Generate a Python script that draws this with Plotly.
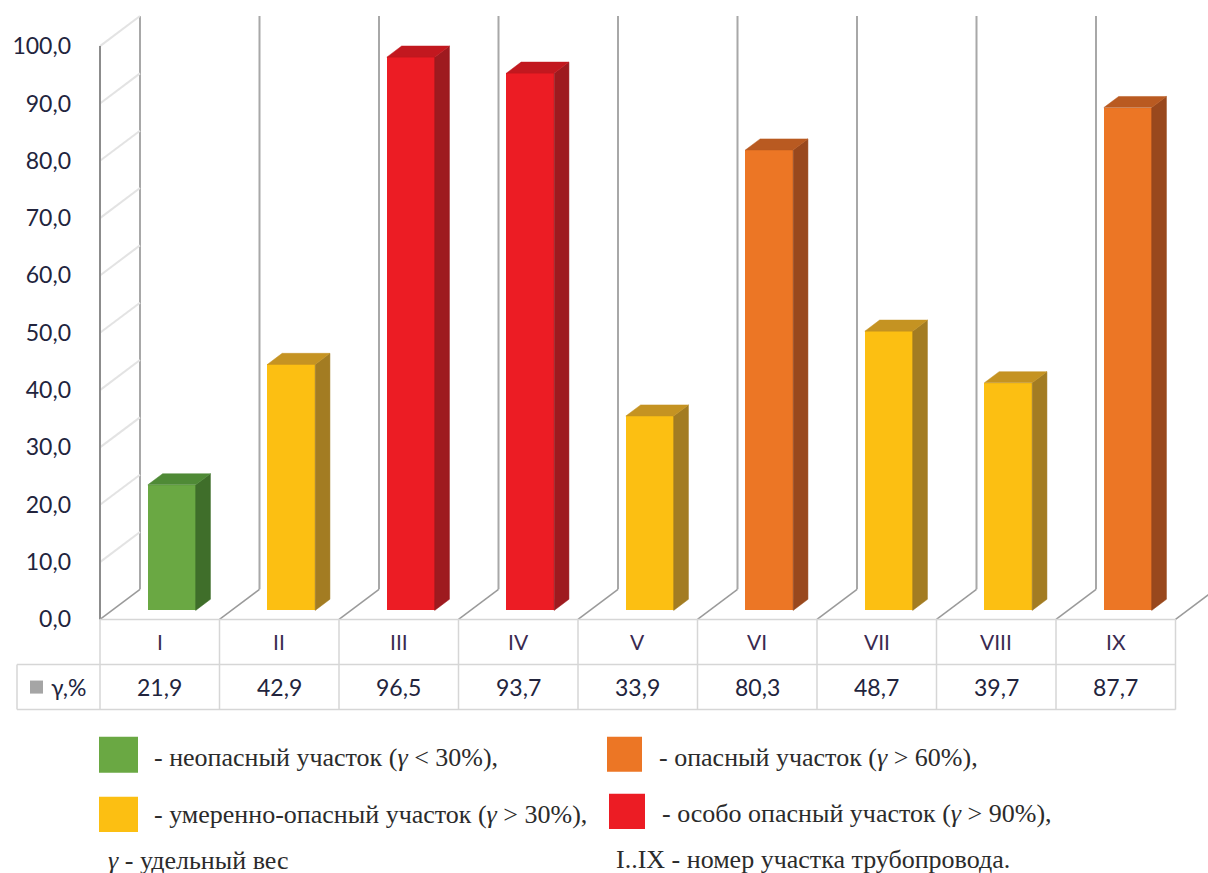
import plotly.graph_objects as go

# Pipeline sections and specific weight of each section, %
sections = ["I", "II", "III", "IV", "V", "VI", "VII", "VIII", "IX"]
gamma = [21.9, 42.9, 96.5, 93.7, 33.9, 80.3, 48.7, 39.7, 87.7]
y_ticks = [0, 10, 20, 30, 40, 50, 60, 70, 80, 90, 100]

# Hazard classes: (lower bound of γ, front, side, top colour)
hazard_classes = [
    (0, "#6aa843", "#3f6e2a", "#4f8a36"),
    (30, "#fcbf12", "#a37c22", "#c59322"),
    (60, "#ec7625", "#99481d", "#b95a21"),
    (90, "#ec1c24", "#9e1a1f", "#c2181f"),
]
legend_texts = [
    "- неопасный участок (<i>γ</i> &lt; 30%),",
    "- умеренно-опасный участок (<i>γ</i> &gt; 30%),",
    "- опасный участок (<i>γ</i> &gt; 60%),",
    "- особо опасный участок (<i>γ</i> &gt; 90%),",
]
note_gamma = "<i>γ</i> - удельный вес"
note_sections = "I..IX - номер участка трубопровода."
row_label = "γ,%"

# ---- layout geometry, in pixels of a 1208 x 873 frame ----
W, H = 1208, 873
FIG_H = 888       # figure height; positions below are kept as fractions of H
X0 = 100.0        # front-left corner of the floor
SLOT = 119.5      # width of one category slot
Y0 = 618.0        # front floor edge (value 0 on the front plane)
UNIT = 5.72       # pixels per percent
DX, DY = 40.0, 30.0   # offset of the back wall relative to the front plane
BAR_FRONT = 0.30  # depth of the bar front faces (0 = front, 1 = back wall)
BAR_DEPTH = 0.37  # depth of the bars themselves
DOM_L, DOM_T = 139.0, 8.0

FONT_UI = "Lato, 'Open Sans', sans-serif"
FONT_SERIF = "'Liberation Serif', 'DejaVu Serif', serif"
TXT = "#22243d"
GRID = "#e3e3e3"
EDGE = "#9a9a9a"
TABLE = "#d6d6d6"


def pix(cat, val, depth=0.0):
    """Pixel position of a point given by category, value and depth."""
    return (X0 + (cat + 0.5) * SLOT + depth * DX,
            Y0 - val * UNIT - depth * DY)


def paper(xp, yp):
    return xp / W, 1 - yp / H


def plane_ranges(depth):
    xr = [(DOM_L - X0 - depth * DX) / SLOT - 0.5, (W - X0 - depth * DX) / SLOT - 0.5]
    yr = [(Y0 - Y0 - depth * DY) / UNIT, (Y0 - DOM_T - depth * DY) / UNIT]
    return xr, yr


def hazard(v):
    cls = hazard_classes[0]
    for c in hazard_classes:
        if v >= c[0]:
            cls = c
    return cls


fig = go.Figure()

cats = list(range(len(sections)))
half = 0.2
dxu = BAR_DEPTH * DX / SLOT
dyu = BAR_DEPTH * DY / UNIT

# base plane carrying the value axis (front plane)
fig.add_trace(go.Scatter(x=[None], y=[None], xaxis="x", yaxis="y",
                         mode="markers", hoverinfo="skip", showlegend=False))

# front faces
fig.add_trace(go.Bar(
    x=cats, y=gamma, width=2 * half, xaxis="x2", yaxis="y2",
    marker=dict(color=[hazard(v)[1] for v in gamma], line=dict(width=0)),
    hoverinfo="skip",
))
# side and top faces
for i, v in zip(cats, gamma):
    _, front, side, top = hazard(v)
    xr = i + half
    fig.add_trace(go.Scatter(
        x=[xr, xr + dxu, xr + dxu, xr, xr], y=[0, dyu, v + dyu, v, 0],
        xaxis="x2", yaxis="y2", mode="lines", fill="toself",
        fillcolor=side, line=dict(color=side, width=0.5), hoverinfo="skip"))
    fig.add_trace(go.Scatter(
        x=[i - half, xr, xr + dxu, i - half + dxu, i - half],
        y=[v, v, v + dyu, v + dyu, v],
        xaxis="x2", yaxis="y2", mode="lines", fill="toself",
        fillcolor=top, line=dict(color=top, width=0.5), hoverinfo="skip"))

shapes = []
annotations = []


def seg(p, q, color, width, layer="below"):
    a, b = paper(*p), paper(*q)
    shapes.append(dict(type="line", xref="paper", yref="paper", layer=layer,
                       x0=a[0], y0=a[1], x1=b[0], y1=b[1],
                       line=dict(color=color, width=width)))


# back wall verticals at category boundaries
for k in range(len(sections) + 1):
    top_pt = pix(k - 0.5, y_ticks[-1], 1)
    if top_pt[0] < W:
        seg(pix(k - 0.5, 0, 1), top_pt, "#a8a8a8", 2)

# left side wall: diagonal gridlines
for t in y_ticks:
    seg(pix(-0.5, t, 0), pix(-0.5, t, 1), GRID if t else EDGE, 2 if t else 1.5)

# floor diagonals
for k in range(1, len(sections) + 1):
    seg(pix(k - 0.5, 0, 0), pix(k - 0.5, 0, 1), EDGE, 1.5)

# front vertical axis line
seg(pix(-0.5, 0, 0), pix(-0.5, y_ticks[-1], 0), "#8c8c8c", 2)

# data table below the floor
ROW1_TOP, ROW1_BOT, ROW2_BOT = 618.0, 663.0, 708.0
TABLE_L = 17.0
x_left = pix(-0.5, 0)[0]
x_right = pix(len(sections) - 0.5, 0)[0]

seg((x_left, ROW1_TOP), (x_right, ROW1_TOP), TABLE, 1.5, "above")
seg((TABLE_L, ROW1_BOT), (x_right, ROW1_BOT), TABLE, 1.5, "above")
seg((TABLE_L, ROW2_BOT), (x_right, ROW2_BOT), TABLE, 1.5, "above")
seg((TABLE_L, ROW1_BOT), (TABLE_L, ROW2_BOT), TABLE, 1.5, "above")
for k in range(len(sections) + 1):
    xb = pix(k - 0.5, 0)[0]
    seg((xb, ROW1_TOP), (xb, ROW2_BOT), TABLE, 1.5, "above")

for i, (name, v) in enumerate(zip(sections, gamma)):
    xc = pix(i, 0)[0] / W
    annotations.append(dict(xref="paper", yref="paper", x=xc,
                            y=paper(0, (ROW1_TOP + ROW1_BOT) / 2)[1],
                            text=name, showarrow=False, xanchor="center", yanchor="middle",
                            font=dict(family=FONT_UI, size=21, color="#3a2a50")))
    annotations.append(dict(xref="paper", yref="paper", x=xc,
                            y=paper(0, (ROW1_BOT + ROW2_BOT) / 2)[1],
                            text=f"{v:.1f}".replace(".", ","), showarrow=False,
                            xanchor="center", yanchor="middle",
                            font=dict(family=FONT_UI, size=23, color=TXT)))

# series key in the table's first column
k0, k1 = paper(30, 692), paper(43, 679)
shapes.append(dict(type="rect", xref="paper", yref="paper",
                   x0=k0[0], y0=k0[1], x1=k1[0], y1=k1[1],
                   fillcolor="#a5a5a5", line=dict(width=0)))
annotations.append(dict(xref="paper", yref="paper", x=49 / W,
                        y=paper(0, (ROW1_BOT + ROW2_BOT) / 2)[1],
                        text=row_label, showarrow=False, xanchor="left", yanchor="middle",
                        font=dict(family=FONT_UI, size=23, color=TXT)))

# colour legend under the chart
legend_boxes = [
    ((99, 735, 138, 771), (152, 756)),
    ((99, 795, 138, 830), (152, 813)),
    ((607, 735, 642, 770), (657, 756)),
    ((609, 792, 645, 827), (660, 812)),
]
for (cls, text, (box, tpos)) in zip(hazard_classes, legend_texts, legend_boxes):
    p0, p1 = paper(box[0], box[3]), paper(box[2], box[1])
    shapes.append(dict(type="rect", xref="paper", yref="paper",
                       x0=p0[0], y0=p0[1], x1=p1[0], y1=p1[1],
                       fillcolor=cls[1], line=dict(width=0)))
    tx, ty = paper(*tpos)
    annotations.append(dict(xref="paper", yref="paper", x=tx, y=ty, text=text,
                            showarrow=False, xanchor="left", yanchor="middle",
                            font=dict(family=FONT_SERIF, size=26, color="#2b2b2b")))

for text, (xp, yp) in [(note_gamma, (106, 859)), (note_sections, (614, 858))]:
    tx, ty = paper(xp, yp)
    annotations.append(dict(xref="paper", yref="paper", x=tx, y=ty, text=text,
                            showarrow=False, xanchor="left", yanchor="middle",
                            font=dict(family=FONT_SERIF, size=26, color="#2b2b2b")))

# axes: front plane (labels), bar plane, back wall
xr0, yr0 = plane_ranges(0)
xr2, yr2 = plane_ranges(BAR_FRONT)
xr3, yr3 = plane_ranges(1)
dom_x = [DOM_L / W, 1]
dom_y = [(H - Y0) / H, (H - DOM_T) / H]
hidden = dict(showgrid=False, zeroline=False, showticklabels=False, showline=False,
              ticks="", fixedrange=True)

fig.update_layout(
    width=W, height=FIG_H, autosize=False,
    margin=dict(l=0, r=0, t=0, b=0, pad=0),
    paper_bgcolor="white", plot_bgcolor="rgba(0,0,0,0)",
    showlegend=False,
    separators=", ",
    bargap=0,
    xaxis=dict(domain=dom_x, range=xr0, anchor="y", **hidden),
    yaxis=dict(domain=dom_y, range=yr0, anchor="x", showgrid=False, zeroline=False,
               showline=False, ticks="", tickvals=y_ticks, tickformat=".1f",
               ticklabelstandoff=int(DOM_L - 72), fixedrange=True,
               tickfont=dict(family=FONT_UI, size=23, color=TXT)),
    xaxis2=dict(domain=dom_x, range=xr2, overlaying="x", anchor="y2", **hidden),
    yaxis2=dict(domain=dom_y, range=yr2, overlaying="y", anchor="x2", **hidden),
    xaxis3=dict(domain=dom_x, range=xr3, overlaying="x", anchor="y3", **hidden),
    yaxis3=dict(domain=dom_y, range=yr3, overlaying="y", anchor="x3", showgrid=True,
                gridcolor=GRID, gridwidth=2, tickvals=y_ticks, showticklabels=False,
                zeroline=False, showline=False, ticks="", fixedrange=True),
    shapes=shapes,
    annotations=annotations,
)

fig.write_html("out.html", config={"responsive": False, "displayModeBar": False})
